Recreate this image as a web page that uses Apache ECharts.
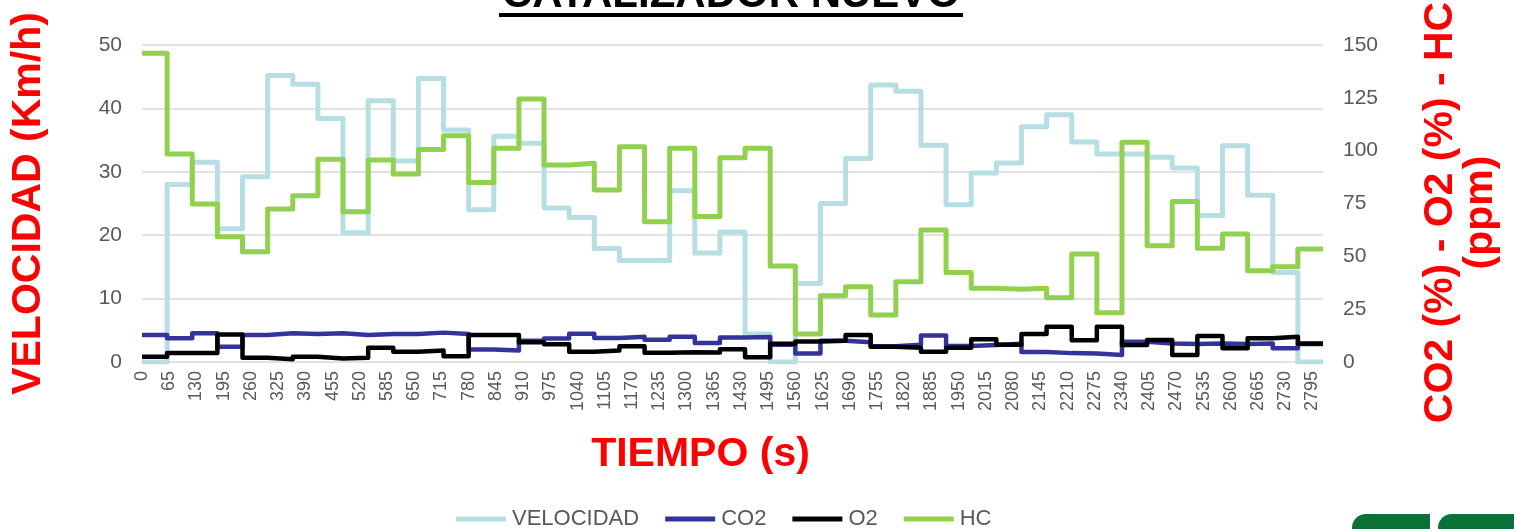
<!DOCTYPE html>
<html>
<head>
<meta charset="utf-8">
<script src="https://cdn.jsdelivr.net/npm/echarts@6/dist/echarts.min.js"></script>
<style>
  html, body { margin: 0; padding: 0; background: #fff; }
  #chart { width: 1514px; height: 529px; }
</style>
</head>
<body>
<div id="chart"></div>
<script>
// tiempo (s) al inicio de cada tramo de 60 s
const tiempo = [0, 60, 120, 180, 240, 300, 360, 420, 480, 540, 600, 660, 720, 780, 840, 900,
  960, 1020, 1080, 1140, 1200, 1260, 1320, 1380, 1440, 1500, 1560, 1620, 1680, 1740, 1800,
  1860, 1920, 1980, 2040, 2100, 2160, 2220, 2280, 2340, 2400, 2460, 2520, 2580, 2640, 2700, 2760]
const tiempoFin = 2820

const velocidad = [0, 28.0, 31.5, 21.0, 29.2, 45.2, 43.8, 38.4, 20.4, 41.2, 31.7, 44.7, 36.6,
  24.0, 35.6, 34.5, 24.3, 22.8, 17.9, 16.0, 16.0, 27.0, 17.2, 20.5, 4.4, 0, 12.4, 25.0, 32.1,
  43.7, 42.7, 34.2, 24.8, 29.8, 31.4, 37.1, 39.0, 34.7, 32.8, 32.8, 32.3, 30.6, 23.1, 34.1,
  26.3, 14.1, 0]

const co2 = [12.8, 11.2, 13.6, 7.2, 12.8, 13.6, 13.2, 13.6, 12.8, 13.2, 13.2, 13.9, 13.2,
  5.9, 5.4, 10.0, 11.1, 13.4, 11.3, 11.9, 10.5, 11.9, 9.0, 11.6, 11.8,
  8.2, 4.0, 10.1, 9.3, 7.4, 8.2, 12.5, 7.6, 8.0, 8.6, 4.7, 4.2,
  4.0, 3.3, 9.6, 8.8, 8.5, 8.8, 8.5, 8.8, 6.5, 8.5]

const o2 = [2.5, 4.3, 4.3, 13.0, 2.0, 1.3, 2.5, 1.7, 2.0, 6.8, 4.8, 5.4, 2.7,
  12.8, 12.8, 9.4, 8.4, 4.8, 5.4, 7.4, 4.4, 4.6, 4.5, 6.0, 2.3,
  8.6, 9.7, 10.0, 12.8, 7.2, 6.8, 4.9, 6.8, 10.8, 8.2, 13.2, 16.7,
  10.3, 16.7, 8.0, 10.4, 3.3, 12.3, 6.5, 11.2, 12.0, 8.8]

const hc = [146.1, 98.4, 74.8, 59.3, 52.2, 72.4, 78.7, 95.9, 71.1, 95.6, 89.0, 100.6, 107.0,
  84.9, 101.1, 124.4, 93.2, 94.0, 81.4, 101.9, 66.4, 101.1, 68.8, 96.7, 101.1, 45.4, 13.2,
  31.4, 35.6, 22.2, 38.0, 62.5, 42.4, 34.9, 34.4, 34.9, 30.4, 51.1, 23.3, 104.0, 55.0,
  75.9, 53.8, 60.6, 43.2, 45.1, 53.5]

const nombres = ['VELOCIDAD', 'CO2', 'O2', 'HC']
const colores = ['#B7DEE3', '#333399', '#000000', '#92D050']

// pares [t, valor] + punto final para cerrar el ultimo escalon
function serie (vals) {
  let d = tiempo.map((t, i) => [t, vals[i]])
  d.push([tiempoFin, vals[vals.length - 1]])
  return d
}

const fuente = '"Liberation Sans", Arial, sans-serif'
const gris = '#595959'
const rojo = '#FF0000'

let chart = echarts.init(document.getElementById('chart'))

function linea (idx, vals, yAxis, width) {
  return {
    name: nombres[idx],
    type: 'line',
    step: 'end',
    yAxisIndex: yAxis,
    showSymbol: false,
    animation: false,
    color: colores[idx],
    lineStyle: { color: colores[idx], width: width, join: 'round' },
    data: serie(vals)
  }
}

chart.setOption({
  backgroundColor: '#fff',
  textStyle: { fontFamily: fuente },
  grid: { left: 142, right: 191, top: 45, bottom: 167, outerBoundsMode: 'none' },
  legend: {
    left: 451,
    top: 503,
    icon: 'rect',
    itemWidth: 50,
    itemHeight: 5,
    itemGap: 26,
    data: nombres,
    textStyle: { color: gris, fontSize: 22, fontFamily: fuente, padding: [0, 0, 0, 1] }
  },
  xAxis: {
    type: 'value',
    min: 0,
    max: tiempoFin,
    interval: 65,
    name: 'TIEMPO (s)',
    nameLocation: 'middle',
    nameGap: 72,
    nameTextStyle: { color: rojo, fontSize: 41, fontWeight: 'bold', fontFamily: fuente, padding: [0, 64, 0, 0] },
    axisLine: { show: false },
    axisTick: { show: false },
    splitLine: { show: false },
    axisLabel: {
      rotate: 90,
      margin: 9,
      color: gris,
      fontSize: 18,
      showMaxLabel: false,
      formatter: function (v) { return v % 65 === 0 ? String(v) : '' }
    }
  },
  yAxis: [
    {
      type: 'value',
      min: 0,
      max: 50,
      interval: 10,
      name: 'VELOCIDAD (Km/h)',
      nameLocation: 'middle',
      nameRotate: 90,
      nameGap: 93,
      nameTextStyle: { color: rojo, fontSize: 41, fontWeight: 'bold', fontFamily: fuente },
      axisLine: { show: false },
      axisTick: { show: false },
      axisLabel: { color: gris, fontSize: 21, margin: 20 },
      splitLine: { lineStyle: { color: '#D9D9D9', width: 1.5 } }
    },
    {
      type: 'value',
      min: 0,
      max: 150,
      interval: 25,
      name: 'CO2 (%) - O2 (%) - HC\n(ppm)',
      nameLocation: 'middle',
      nameRotate: 90,
      nameGap: 98,
      nameTextStyle: { color: rojo, fontSize: 41, fontWeight: 'bold', fontFamily: fuente, lineHeight: 40, padding: [0, 18, 0, 0] },
      axisLine: { show: false },
      axisTick: { show: false },
      axisLabel: { color: gris, fontSize: 21, margin: 20 },
      splitLine: { show: false }
    }
  ],
  series: [
    linea(0, velocidad, 0, 5),
    linea(1, co2, 1, 4.5),
    linea(2, o2, 1, 4.5),
    linea(3, hc, 1, 5)
  ],
  graphic: [
    {
      type: 'text',
      x: 731,
      y: -26,
      style: {
        text: 'CATALIZADOR NUEVO',
        align: 'center',
        verticalAlign: 'top',
        font: 'bold 42px "Liberation Sans", Arial, sans-serif',
        fill: '#000'
      }
    },
    { type: 'rect', shape: { x: 499, y: 13, width: 464, height: 4 }, style: { fill: '#000' } },
    // logos cortados abajo a la derecha
    { type: 'rect', shape: { x: 1352, y: 514, width: 78, height: 20, r: [14, 0, 0, 0] }, style: { fill: '#0B7138' } },
    { type: 'rect', shape: { x: 1438, y: 514, width: 76, height: 20, r: [14, 0, 0, 0] }, style: { fill: '#0B7138' } }
  ]
})
</script>
</body>
</html>
